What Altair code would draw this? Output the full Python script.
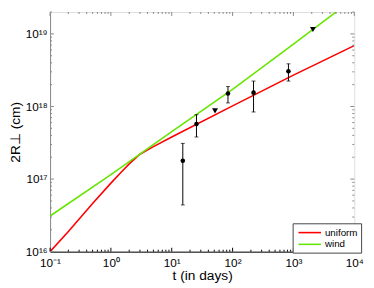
import altair as alt
import pandas as pd
import math

# ---- data ----
t_uniform = [0.1, 0.2, 0.5, 1, 1.5, 2, 3, 5, 10, 100, 1000, 10000]
r_uniform = [1.0e16, 1.9e16, 4.6e16, 8.8e16, 1.26e17, 1.62e17, 2.2e17, 2.8e17, 3.8e17, 1.02e18, 2.7e18, 6.9e18]
t_wind = [0.1, 1, 10, 100, 1000, 10000]
r_wind = [3.1e16, 1.15e17, 4.5e17, 1.72e18, 7.2e18, 3.1e19]

t_obs = [15.2, 25.5, 84, 221, 828]
r_obs = [1.79e17, 5.74e17, 1.51e18, 1.55e18, 3.06e18]
r_lo = [4.4e16, 3.8e17, 1.12e18, 8.4e17, 2.24e18]
r_hi = [3.1e17, 7.7e17, 1.88e18, 2.24e18, 3.87e18]
t_lim = [51.5, 2090]
r_lim = [8.7e17, 1.15e19]

x_ticks = [0.1, 1, 10, 100, 1000, 10000]
x_labels = ['10\u207b\u00b9', '10\u2070', '10\u00b9', '10\u00b2', '10\u00b3', '10\u2074']
y_ticks = [1e16, 1e17, 1e18, 1e19]
y_labels = ['10\u00b9\u2076', '10\u00b9\u2077', '10\u00b9\u2078', '10\u00b9\u2079']

series = ['uniform', 'wind']
colors = ['#ff0000', '#66e500']

W, H = 311, 245
FONT = 'Liberation Sans'


def label_expr(vals, labels):
    expr = "'" + labels[-1] + "'"
    for i in range(len(vals) - 2, -1, -1):
        mid = math.sqrt(vals[i] * vals[i + 1])
        expr = f"datum.value < {mid!r} ? '{labels[i]}' : ({expr})"
    return expr


lines = pd.DataFrame({
    't': t_uniform + t_wind,
    'r': r_uniform + r_wind,
    'model': ['uniform'] * len(t_uniform) + ['wind'] * len(t_wind),
})
obs = pd.DataFrame({'t': t_obs, 'r': r_obs, 'lo': r_lo, 'hi': r_hi})
lim = pd.DataFrame({'t': t_lim, 'r': r_lim})

xscale = alt.Scale(type='log', domain=[0.1, 10000], nice=False)
yscale = alt.Scale(type='log', domain=[1e16, 2e19], nice=False)

# tick positions (decades and minor subdivisions)
x_major = pd.DataFrame({'v': x_ticks})
x_minor = pd.DataFrame({'v': [k * d for d in x_ticks[:-1] for k in range(2, 10)]})
y_major = pd.DataFrame({'v': y_ticks})
y_minor = pd.DataFrame({'v': [k * d for d in y_ticks for k in range(2, 10) if k * d <= 2e19]})

line_layer = alt.Chart(lines).mark_line(strokeWidth=1.6, clip=True).encode(
    x=alt.X('t:Q', scale=xscale,
            axis=alt.Axis(values=x_ticks, labelExpr=label_expr(x_ticks, x_labels),
                          ticks=False, grid=False, domainColor='#000000',
                          labelFont=FONT, labelFontSize=12, labelColor='#000000',
                          labelPadding=6, title='t (in days)', titleFont=FONT,
                          titleFontSize=14, titleFontWeight='normal', titleColor='#000000',
                          titlePadding=0, labelFlush=False)),
    y=alt.Y('r:Q', scale=yscale,
            axis=alt.Axis(values=y_ticks, labelExpr=label_expr(y_ticks, y_labels),
                          ticks=False, grid=False, domainColor='#888888',
                          labelFont=FONT, labelFontSize=12, labelColor='#000000',
                          labelPadding=3, title='2R\u22a5 (cm)', titleFont=FONT,
                          titleFontSize=14, titleFontWeight='normal', titleColor='#000000',
                          titlePadding=3, labelFlush=False)),
    color=alt.Color('model:N', scale=alt.Scale(domain=series, range=colors),
                    legend=alt.Legend(title=None, orient='none', legendX=248, legendY=216,
                                      symbolType='M-2.1,0H2.1', symbolSize=121,
                                      symbolStrokeWidth=1.6, symbolOffset=8,
                                      labelFont=FONT, labelFontSize=10, labelColor='#000000',
                                      labelOffset=9, rowPadding=0, padding=3,
                                      fillColor='#ffffff', strokeColor='#444444')),
    order='t:Q',
)

err_layer = alt.Chart(obs).mark_rule(color='#000000', strokeWidth=1).encode(
    x=alt.X('t:Q', scale=xscale), y=alt.Y('lo:Q', scale=yscale), y2='hi:Q')
cap_lo = alt.Chart(obs).mark_tick(orient='horizontal', size=4, thickness=1, color='#000000').encode(
    x=alt.X('t:Q', scale=xscale), y=alt.Y('lo:Q', scale=yscale))
cap_hi = alt.Chart(obs).mark_tick(orient='horizontal', size=4, thickness=1, color='#000000').encode(
    x=alt.X('t:Q', scale=xscale), y=alt.Y('hi:Q', scale=yscale))
pts = alt.Chart(obs).mark_point(filled=True, shape='circle', size=22, color='#000000', opacity=1).encode(
    x=alt.X('t:Q', scale=xscale), y=alt.Y('r:Q', scale=yscale))
tri = alt.Chart(lim).mark_point(filled=True, shape='triangle-down', size=36, color='#000000', opacity=1).encode(
    x=alt.X('t:Q', scale=xscale), y=alt.Y('r:Q', scale=yscale))


def xt(df, y0, y1, col):
    return alt.Chart(df).mark_rule(color=col, strokeWidth=1).encode(
        x=alt.X('v:Q', scale=xscale), y=alt.value(y0), y2=alt.value(y1))


def yt(df, x0, x1, col):
    return alt.Chart(df).mark_rule(color=col, strokeWidth=1).encode(
        y=alt.Y('v:Q', scale=yscale), x=alt.value(x0), x2=alt.value(x1))


ticks = [
    xt(x_major, H, H - 4, '#000000'), xt(x_minor, H, H - 2, '#000000'),
    xt(x_major, 0, 4, '#888888'), xt(x_minor, 0, 2, '#888888'),
    yt(y_major, 0, 4, '#888888'), yt(y_minor, 0, 2, '#888888'),
    yt(y_major, W, W - 4, '#888888'), yt(y_minor, W, W - 2, '#888888'),
]

chart = alt.layer(line_layer, err_layer, cap_lo, cap_hi, pts, tri, *ticks).properties(
    width=W, height=H,
    autosize=alt.AutoSizeParams(type='none'),
    padding={'left': 43, 'top': 1, 'right': 12, 'bottom': 33},
).configure_view(stroke='#888888', strokeWidth=1).configure(background='white')

chart.save('out.html', embed_options={'renderer': 'svg', 'actions': False})
